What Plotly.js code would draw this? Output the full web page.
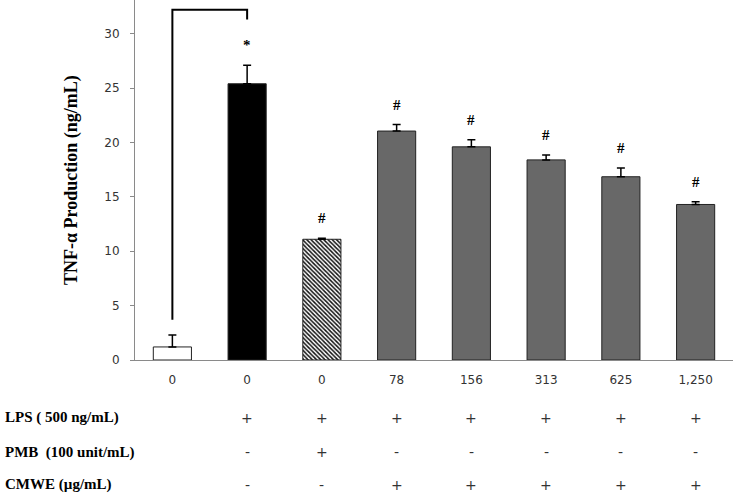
<!DOCTYPE html>
<html>
<head>
<meta charset="utf-8">
<script src="https://cdn.plot.ly/plotly-3.0.1.min.js"></script>
<style>html,body{margin:0;padding:0;background:#fff}#chart{width:737px;height:498px}</style>
</head>
<body>
<div id="chart"></div>
<script>
// ---- data ----
const doseLabels = ['0', '0', '0', '78', '156', '313', '625', '1,250'];
const tnfValues  = [1.2, 25.4, 11.1, 21.05, 19.6, 18.4, 16.85, 14.3];
const tnfErrors  = [1.1, 1.7, 0.1, 0.6, 0.65, 0.45, 0.8, 0.25];
const sigMarks   = ['', '*', '#', '#', '#', '#', '#', '#'];
const lpsRow  = ['', '+', '+', '+', '+', '+', '+', '+'];
const pmbRow  = ['', '-', '+', '-', '-', '-', '-', '-'];
const cmweRow = ['', '-', '-', '+', '+', '+', '+', '+'];
const rowLabels = ['LPS ( 500 ng/mL)', 'PMB  (100 unit/mL)', 'CMWE (\u00b5g/mL)'];
const yTickVals = [0, 5, 10, 15, 20, 25, 30];

// groups: 0 = control (white), 1 = LPS (black), 2 = LPS+PMB (hatched), 3 = CMWE (gray)
const barGroup = [0, 1, 2, 3, 3, 3, 3, 3];
const groupColors   = ['#ffffff', '#000000', '#ffffff', '#686868'];
const groupPatterns = ['', '', '\\', ''];

const idx = doseLabels.map((_, i) => i);

const traces = groupColors.map((col, g) => {
  const sel = idx.filter(i => barGroup[i] === g);
  const marker = {color: col, line: {color: '#222', width: 1}};
  if (groupPatterns[g]) {
    marker.pattern = {shape: groupPatterns[g], fgcolor: '#111', bgcolor: '#ffffff', size: 3, solidity: 0.5};
  }
  return {
    type: 'bar',
    x: sel,
    y: sel.map(i => tnfValues[i]),
    width: 0.51,
    marker: marker,
    error_y: {type: 'data', array: sel.map(i => tnfErrors[i]), arrayminus: sel.map(() => 0), symmetric: false,
              color: '#000', thickness: 1.5, width: 4},
    hoverinfo: 'none'
  };
});

const annotations = [];
// significance marks
idx.forEach(i => {
  if (!sigMarks[i]) return;
  annotations.push({x: i, y: tnfValues[i] + tnfErrors[i], xref: 'x', yref: 'y', text: '<b>' + sigMarks[i] + '</b>',
    showarrow: false, yshift: 20, yanchor: 'middle',
    font: {family: 'Liberation Serif', size: 15, color: '#000'}});
});
// condition rows
const rows = [lpsRow, pmbRow, cmweRow];
const rowY = [-0.161, -0.256, -0.347];
rows.forEach((row, r) => {
  annotations.push({x: 0, y: rowY[r], xref: 'paper', yref: 'paper', xshift: -132, xanchor: 'left', yanchor: 'middle',
    text: '<b>' + rowLabels[r] + '</b>', showarrow: false,
    font: {family: 'Liberation Serif', size: 15, color: '#000'}});
  row.forEach((s, i) => {
    if (!s) return;
    annotations.push({x: i, y: rowY[r], xref: 'x', yref: 'paper', text: s, showarrow: false, yanchor: 'middle',
      font: {family: 'DejaVu Sans', size: 14, color: '#333'}});
  });
});
// y axis title
annotations.push({x: 0, y: 0.5, xref: 'paper', yref: 'paper', xshift: -64, textangle: -90,
  text: '<b>TNF-\u03b1 Production (ng/mL)</b>', showarrow: false, xanchor: 'center', yanchor: 'middle',
  font: {family: 'Liberation Serif', size: 18, color: '#000'}});

// bracket between control and LPS
const bracketTop = 32.2, bracketRightEnd = 31.3, bracketLeftEnd = 3.7;
const shapes = [{
  type: 'path', xref: 'x', yref: 'y',
  path: `M 0 ${bracketLeftEnd} L 0 ${bracketTop} L 1 ${bracketTop} L 1 ${bracketRightEnd}`,
  line: {color: '#000', width: 2}
}];

const layout = {
  width: 737, height: 498,
  margin: {l: 135, r: 4, t: 0, b: 138},
  paper_bgcolor: '#fff', plot_bgcolor: '#fff',
  showlegend: false,
  barmode: 'overlay',
  xaxis: {range: [-0.5, 7.5], tickvals: idx, ticktext: doseLabels, showline: true, linecolor: '#8a8a8a', linewidth: 1,
          ticks: '', showgrid: false, zeroline: false, ticklabelstandoff: 9,
          tickfont: {family: 'DejaVu Sans', size: 12, color: '#333'}},
  yaxis: {range: [0, 33.1], tickvals: yTickVals, showline: true, linecolor: '#8a8a8a', linewidth: 1,
          ticks: 'outside', ticklen: 4, tickcolor: '#8a8a8a', showgrid: false, zeroline: false, ticklabelstandoff: 8,
          tickfont: {family: 'DejaVu Sans', size: 12, color: '#333'}},
  annotations: annotations,
  shapes: shapes
};

Plotly.newPlot('chart', traces, layout, {staticPlot: true, displayModeBar: false});
</script>
</body>
</html>
